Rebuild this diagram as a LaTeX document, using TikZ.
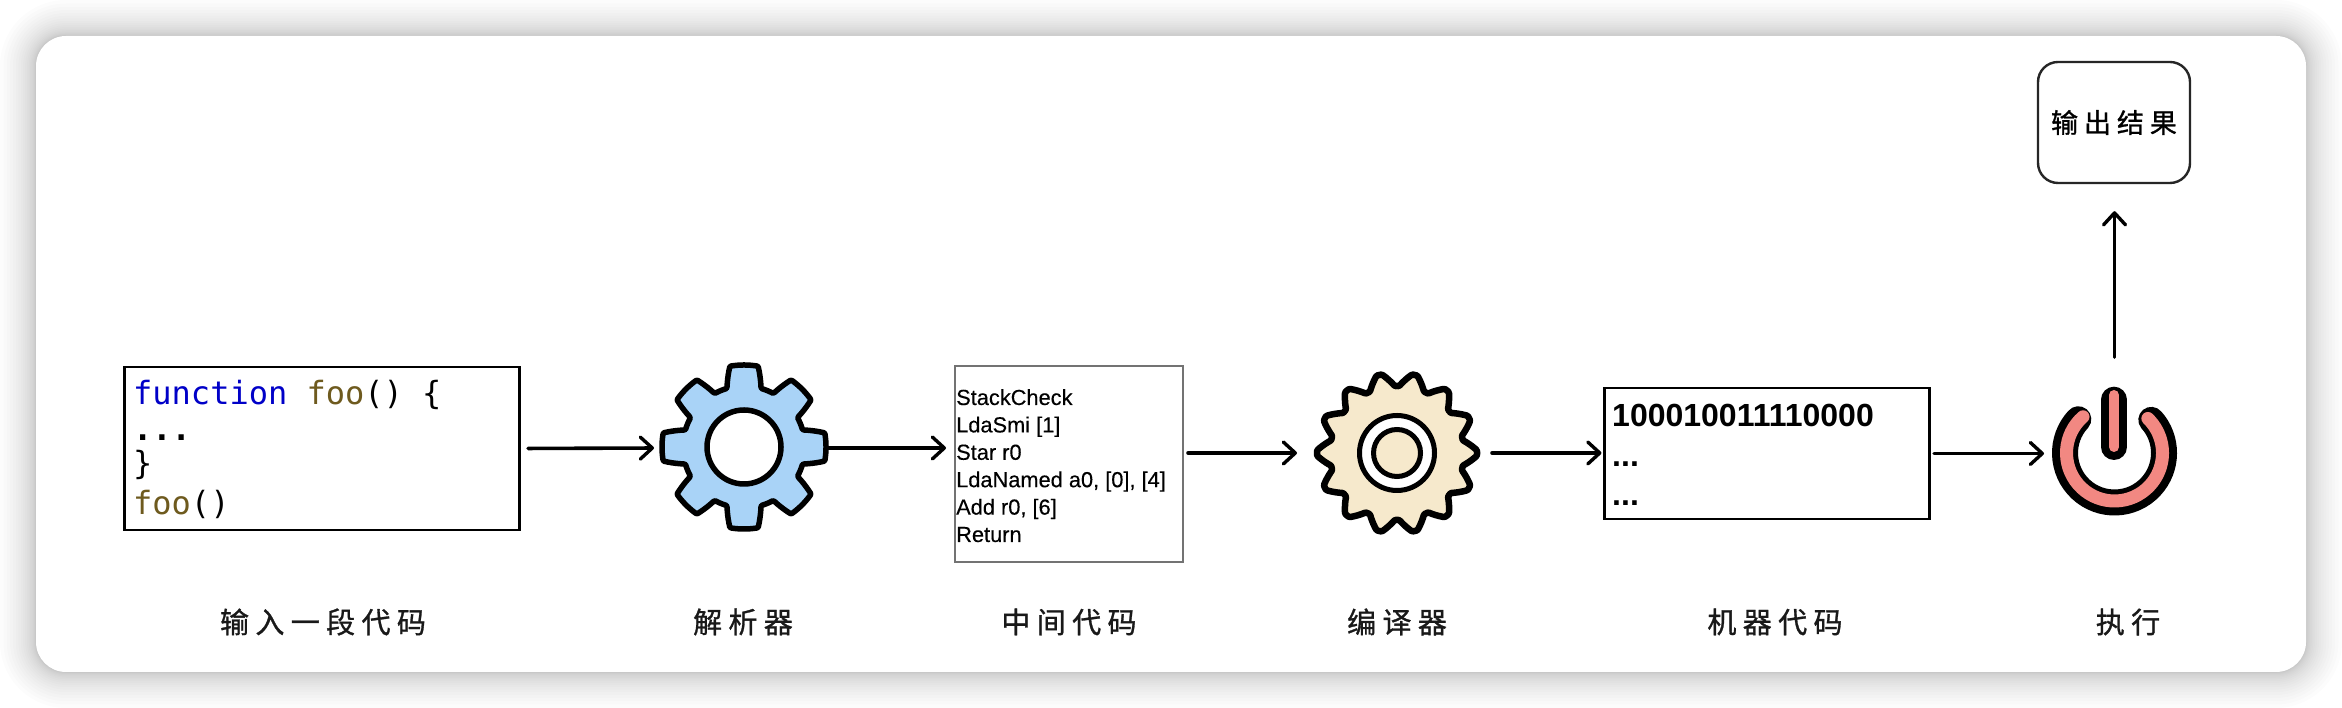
\documentclass[tikz,border=0pt]{standalone}
\usepackage{fontspec}
\setmainfont{Liberation Sans}
\setmonofont{DejaVu Sans Mono}
\newfontfamily\cjk[LetterSpace=22,FakeBold=1]{Noto Sans CJK SC}
\usetikzlibrary{arrows.meta}
\definecolor{gearblue}{HTML}{A9D3F7}
\definecolor{gearcream}{HTML}{F6E9CC}
\definecolor{powerpink}{HTML}{F28882}
\definecolor{kwblue}{HTML}{0000C8}
\definecolor{fnbrown}{HTML}{6E5A1E}
\tikzset{
  x=1pt,y=1pt,
  declare function={
    trap(\t,\n,\a,\b)=min(1,max(0,(1-abs(2*mod(\t*\n/360+1000,1)-1)-\a)/(\b-\a)));
  },
  boxnode/.style={draw=black,line width=2.6pt,minimum width=#1,inner sep=0pt,rectangle},
  iconnode/.style={circle,minimum size=#1,inner sep=0pt,outer sep=0pt},
  conn/.style={line width=3.6pt,line cap=round,-{Straight Barb[length=12pt,width=22pt,line width=3.4pt,round]}},
  steplabel/.style={inner sep=0pt,font=\cjk\fontsize{29}{32}\selectfont,text=black!90},
  codetext/.style={inner sep=0pt,align=left,anchor=north west},
}
\begin{document}
\begin{tikzpicture}
\useasboundingbox (0,0) rectangle (2342,708);
\fill[white] (0,0) rectangle (2342,708);
% soft card shadow
\foreach \i in {1,...,20}{
  \pgfmathsetmacro{\d}{\i*\i*36/400}
  \fill[black,opacity=0.011,rounded corners={30+\d}] ({36-\d},{36-\d}) rectangle ({2306+\d},{672+\d});
}
\fill[white,rounded corners=30] (36,36) rectangle (2306,672);

% code box
\node[boxnode=394.5,minimum height=163] (code) at (322,259.5) {};
\node[codetext,anchor=base west,font=\ttfamily\fontsize{32}{36}\selectfont] (codetxt) at (133,303)
  {\textcolor{kwblue}{function} \textcolor{fnbrown}{foo}() \{};
\node[codetext,anchor=base west,font=\ttfamily\bfseries\fontsize{32}{36}\selectfont] (codetxtb) at (133,267) {...};
\node[codetext,anchor=base west,font=\ttfamily\fontsize{32}{36}\selectfont] (codetxtc) at (133,233) {\}};
\node[codetext,anchor=base west,font=\ttfamily\fontsize{32}{36}\selectfont] (codetxtd) at (133,193) {\textcolor{fnbrown}{foo}()};

% parser gear
\node[iconnode=166] (gear1) at (744,260) {};
\draw[line width=5.5pt,line join=round,fill=gearblue,shift={(744,261)}]
  plot[samples=321,domain=0:360] (\x+22.5:{61+21*trap(\x,8,0.28,0.56)}) -- cycle;
\draw[line width=5.5pt,fill=white] (744,261) circle (37);

% intermediate code
\node[boxnode=228,minimum height=196,draw=black!55,line width=2pt] (ir) at (1069,244) {};
\foreach \n/\t/\yy in {a/StackCheck/303,b/LdaSmi [1]/275.6,c/Star r0/248.2,d/{LdaNamed a0, [0], [4]}/220.8,e/{Add r0, [6]}/193.4,f/Return/166}{
  \node[codetext,anchor=base west,font=\addfontfeature{FakeBold=0.3}\fontsize{21.8}{27}\selectfont] (ir\n) at (956,\yy) {\t};
}

% compiler gear
\node[iconnode=166] (gear2) at (1397,255) {};
\draw[line width=6.5pt,line join=round,fill=gearcream,shift={(1397,255)}]
  plot[samples=281,domain=0:360] (\x+64.3:{67+13*trap(\x,14,0.15,0.85)}) -- cycle;
\fill[white] (1397,255) circle (37);
\draw[line width=5pt] (1397,255) circle (37.5);
\draw[line width=5pt,fill=gearcream] (1397,255) circle (23.5);

% machine code
\node[boxnode=324.5,minimum height=131] (mc) at (1767,254.5) {};
\node[codetext,anchor=base west,font=\bfseries\fontsize{32}{36}\selectfont] (mca) at (1612,281) {100010011110000};
\node[codetext,anchor=base west,font=\bfseries\fontsize{32}{36}\selectfont] (mcb) at (1612,241) {...};
\node[codetext,anchor=base west,font=\bfseries\fontsize{32}{36}\selectfont] (mcc) at (1612,202) {...};

% power icon
\node[iconnode=125] (power) at (2114.5,255) {};
\draw[line width=26pt,line cap=round] (2114.5,255) ++(137:49.5) arc[start angle=137,end angle=402,radius=49.5];
\draw[line width=13pt,line cap=round,powerpink] (2114.5,255) ++(131:48) arc[start angle=131,end angle=406,radius=48];
\draw[line width=26pt,line cap=round] (2114,308.3) -- (2114,261);
\draw[line width=10pt,line cap=round,powerpink] (2114,313) -- (2114,261);

% output box
\node[draw=black!85,line width=2.4pt,rounded corners=20,minimum width=152,minimum height=121,inner sep=0pt,font=\cjk\fontsize{27}{30}\selectfont] (out) at (2114,585.5) {输出结果};

% labels
\node[steplabel] (l1) at (323,86) {输入一段代码};
\node[steplabel] (l2) at (743,86) {解析器};
\node[steplabel] (l3) at (1069,86) {中间代码};
\node[steplabel] (l4) at (1397,86) {编译器};
\node[steplabel] (l5) at (1775,86) {机器代码};
\node[steplabel] (l6) at (2128,86) {执行};

% connectors
\draw[conn,shorten <=7.5pt,shorten >=7pt] (code.east) -- (gear1.west);
\draw[conn,shorten >=8pt] (gear1.east) -- (gear1.east -| ir.west);
\draw[conn,shorten <=4pt,shorten >=17pt] (ir.east |- gear2) -- (gear2.west);
\draw[conn,shorten <=12pt,shorten >=2pt] (gear2.east) -- (gear2.east -| mc.west);
\draw[conn,shorten <=3.5pt,shorten >=8pt] (mc.east) -- (mc.east -| power.west);
\draw[conn,line width=3pt,shorten <=33pt,shorten >=27pt] (power.north) -- (power.north |- out.south);
\end{tikzpicture}
\end{document}
